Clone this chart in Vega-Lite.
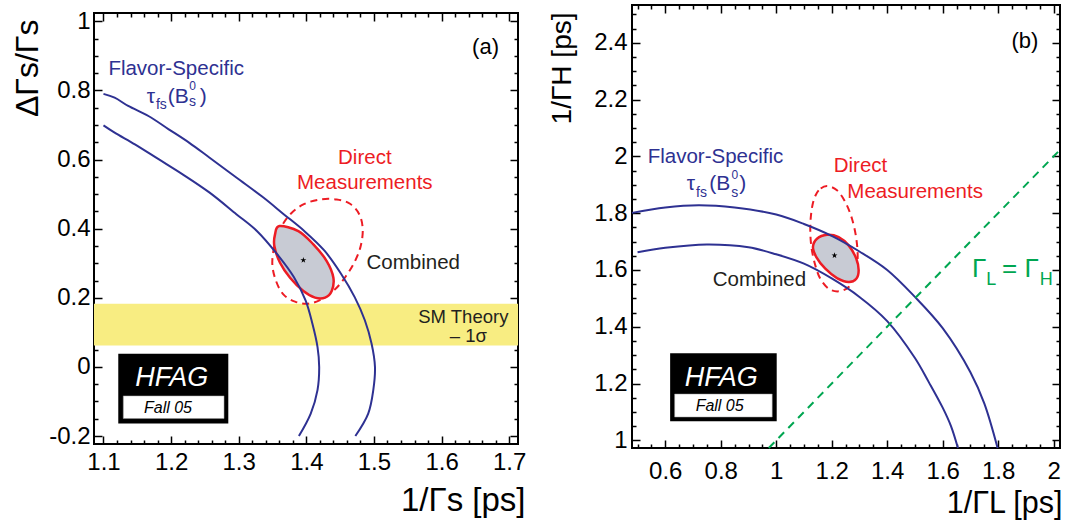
{
"$schema":"https://vega.github.io/schema/vega-lite/v6.json",
"background":"white",
"padding":{"left":10,"top":3,"right":0,"bottom":0},
"spacing":20,
"config":{
 "font":"Liberation Sans",
 "view":{"stroke":"black","strokeWidth":2},
 "axis":{"domain":false,"grid":false,"labelFontSize":24,"labelColor":"black","tickColor":"black","tickWidth":1.5,"titleFontWeight":"normal","titleColor":"black","labelFlush":false,"labelOverlap":false,"labelBound":false}
},
"hconcat":[
{"spacing":2,
 "vconcat":[
 {"width":10,"height":1,"view":{"stroke":null},"data":{"values":[]},"mark":"point"},
 {
 "width":424,"height":431,
 "resolve":{"axis":{"x":"independent","y":"independent"}},
 "layer":[
  {"data":{"values":[{"lo":0.062,"hi":0.183}]},
   "mark":{"type":"rect","color":"#F8ED82"},
   "encoding":{
    "x":{"datum":1.086,"type":"quantitative","scale":{"domain":[1.086,1.713],"nice":false,"zero":false},"axis":null},
    "x2":{"datum":1.713},
    "y":{"field":"lo","type":"quantitative","scale":{"domain":[-0.223,1.024],"nice":false,"zero":false},
      "axis":{"orient":"left","values":[-0.2,0,0.2,0.4,0.6,0.8,1],"labelExpr":"datum.value < 0 ? '-0.2' : datum.value == 0 ? '0' : datum.value == 1 ? '1' : format(datum.value, '.1f')","ticks":false,"labelPadding":4,"title":"ΔΓs/Γs","titleFontSize":32,"titleAngle":270,"titleAlign":"right","titleBaseline":"alphabetic","titleX":-57,"titleY":6}},
    "y2":{"field":"hi"}
   }},
  {"data":{"values":[{"x1":1.1219,"x2":1.2846,"y1":-0.1639,"y2":0.0384}]},
   "mark":{"type":"rect","color":"black"},
   "encoding":{
    "x":{"field":"x1","type":"quantitative","scale":{"domain":[1.086,1.713],"nice":false,"zero":false},
      "axis":{"orient":"bottom","values":[1.1,1.2,1.3,1.4,1.5,1.6,1.7],"format":".1f","ticks":false,"labelPadding":6,"title":"1/Γs  [ps]","titleFontSize":33,"titleAnchor":"end","titleAlign":"right","titleBaseline":"alphabetic","titleX":431,"titleY":66}},
    "x2":{"field":"x2"},
    "y":{"field":"y1","type":"quantitative","scale":{"domain":[-0.223,1.024],"nice":false,"zero":false},
      "axis":{"orient":"right","values":[-0.2,0,0.2,0.4,0.6,0.8,1],"labels":false,"ticks":true,"tickSize":8,"offset":-8,"title":null}},
    "y2":{"field":"y2"}
   }},
  {"data":{"values":[{"x1":1.1293,"x2":1.2783,"y1":-0.1494,"y2":-0.0838}]},
   "mark":{"type":"rect","fill":"white","stroke":"#999999","strokeWidth":0.5},
   "encoding":{
    "x":{"field":"x1","type":"quantitative","scale":{"domain":[1.086,1.713],"nice":false,"zero":false},
      "axis":{"orient":"top","values":[1.1,1.2,1.3,1.4,1.5,1.6,1.7],"labels":false,"ticks":true,"tickSize":8,"offset":-8,"title":null}},
    "x2":{"field":"x2"},
    "y":{"field":"y1","type":"quantitative","scale":{"domain":[-0.223,1.024],"nice":false,"zero":false},
      "axis":{"orient":"left","values":[-0.2,0,0.2,0.4,0.6,0.8,1],"labels":false,"ticks":true,"tickSize":8,"offset":-8,"title":null}},
    "y2":{"field":"y2"}
   }},
  {"data":{"values":[
    {"i":0,"x":1.3497,"y":0.2967},{"i":1,"x":1.3527,"y":0.3497},{"i":2,"x":1.3611,"y":0.3979},{"i":3,"x":1.3759,"y":0.4412},
    {"i":4,"x":1.3956,"y":0.4701},{"i":5,"x":1.4203,"y":0.4846},{"i":6,"x":1.4449,"y":0.4846},{"i":7,"x":1.4646,"y":0.4721},
    {"i":8,"x":1.4784,"y":0.4412},{"i":9,"x":1.4834,"y":0.3979},{"i":10,"x":1.4804,"y":0.3497},{"i":11,"x":1.472,"y":0.3064},
    {"i":12,"x":1.4587,"y":0.263},{"i":13,"x":1.4425,"y":0.2245},{"i":14,"x":1.4227,"y":0.1956},{"i":15,"x":1.403,"y":0.183},
    {"i":16,"x":1.3833,"y":0.1888},{"i":17,"x":1.366,"y":0.21},{"i":18,"x":1.3552,"y":0.2486}]},
   "mark":{"type":"line","interpolate":"cardinal-closed","color":"#ED1C24","strokeWidth":2,"strokeDash":[7,5]},
   "encoding":{
    "x":{"field":"x","type":"quantitative","scale":{"domain":[1.086,1.713],"nice":false,"zero":false},
      "axis":{"orient":"bottom","values":[1.1,1.2,1.3,1.4,1.5,1.6,1.7],"labels":false,"ticks":true,"tickSize":8,"offset":-8,"title":null}},
    "y":{"field":"y","type":"quantitative","scale":{"domain":[-0.223,1.024],"nice":false,"zero":false},
      "axis":{"orient":"left","values":[-0.15,-0.1,-0.05,0.05,0.1,0.15,0.25,0.3,0.35,0.45,0.5,0.55,0.65,0.7,0.75,0.85,0.9,0.95],"labels":false,"ticks":true,"tickSize":4,"offset":-4,"title":null}},
    "order":{"field":"i"}
   }},
  {"data":{"values":[
    {"i":0,"x":1.3601,"y":0.4075},{"i":1,"x":1.3882,"y":0.3931},{"i":2,"x":1.4104,"y":0.3545},{"i":3,"x":1.4301,"y":0.3064},
    {"i":4,"x":1.44,"y":0.2582},{"i":5,"x":1.4375,"y":0.2197},{"i":6,"x":1.4277,"y":0.2004},{"i":7,"x":1.4129,"y":0.2004},
    {"i":8,"x":1.3956,"y":0.2197},{"i":9,"x":1.3759,"y":0.2582},{"i":10,"x":1.3611,"y":0.3015},{"i":11,"x":1.3527,"y":0.3497},
    {"i":12,"x":1.3537,"y":0.3834}]},
   "mark":{"type":"line","interpolate":"cardinal-closed","fill":"#C8CBD4","stroke":"#ED1C24","strokeWidth":2.5},
   "encoding":{
    "x":{"field":"x","type":"quantitative","scale":{"domain":[1.086,1.713],"nice":false,"zero":false},
      "axis":{"orient":"bottom","values":[1.12,1.14,1.16,1.18,1.22,1.24,1.26,1.28,1.32,1.34,1.36,1.38,1.42,1.44,1.46,1.48,1.52,1.54,1.56,1.58,1.62,1.64,1.66,1.68],"labels":false,"ticks":true,"tickSize":4,"offset":-4,"title":null}},
    "y":{"field":"y","type":"quantitative","scale":{"domain":[-0.223,1.024],"nice":false,"zero":false},
      "axis":{"orient":"right","values":[-0.15,-0.1,-0.05,0.05,0.1,0.15,0.25,0.3,0.35,0.45,0.5,0.55,0.65,0.7,0.75,0.85,0.9,0.95],"labels":false,"ticks":true,"tickSize":4,"offset":-4,"title":null}},
    "order":{"field":"i"}
   }},
  {"data":{"values":[
    {"c":"o","i":0,"x":1.1,"y":0.79},{"c":"o","i":1,"x":1.1165,"y":0.779},{"c":"o","i":2,"x":1.1365,"y":0.755},{"c":"o","i":3,"x":1.1665,"y":0.726},
    {"c":"o","i":4,"x":1.1965,"y":0.6875},{"c":"o","i":5,"x":1.2265,"y":0.649},{"c":"o","i":6,"x":1.2565,"y":0.606},{"c":"o","i":7,"x":1.2965,"y":0.548},
    {"c":"o","i":8,"x":1.3365,"y":0.49},{"c":"o","i":9,"x":1.3665,"y":0.442},{"c":"o","i":10,"x":1.3965,"y":0.394},{"c":"o","i":11,"x":1.4265,"y":0.337},
    {"c":"o","i":12,"x":1.4515,"y":0.269},{"c":"o","i":13,"x":1.4715,"y":0.202},{"c":"o","i":14,"x":1.4865,"y":0.135},{"c":"o","i":15,"x":1.4965,"y":0.067},
    {"c":"o","i":16,"x":1.5015,"y":0.0},{"c":"o","i":17,"x":1.499,"y":-0.067},{"c":"o","i":18,"x":1.4915,"y":-0.135},{"c":"o","i":19,"x":1.4725,"y":-0.2},
    {"c":"n","i":0,"x":1.1,"y":0.699},{"c":"n","i":1,"x":1.1165,"y":0.678},{"c":"n","i":2,"x":1.1465,"y":0.644},{"c":"n","i":3,"x":1.1815,"y":0.601},
    {"c":"n","i":4,"x":1.2165,"y":0.558},{"c":"n","i":5,"x":1.2565,"y":0.505},{"c":"n","i":6,"x":1.2965,"y":0.442},{"c":"n","i":7,"x":1.3265,"y":0.394},
    {"c":"n","i":8,"x":1.3565,"y":0.327},{"c":"n","i":9,"x":1.3815,"y":0.26},{"c":"n","i":10,"x":1.399,"y":0.192},{"c":"n","i":11,"x":1.409,"y":0.125},
    {"c":"n","i":12,"x":1.4165,"y":0.058},{"c":"n","i":13,"x":1.419,"y":0.0},{"c":"n","i":14,"x":1.4165,"y":-0.067},{"c":"n","i":15,"x":1.4065,"y":-0.135},
    {"c":"n","i":16,"x":1.389,"y":-0.2}]},
   "mark":{"type":"line","interpolate":"catmull-rom","color":"#2E3192","strokeWidth":2},
   "encoding":{
    "x":{"field":"x","type":"quantitative","scale":{"domain":[1.086,1.713],"nice":false,"zero":false},
      "axis":{"orient":"top","values":[1.12,1.14,1.16,1.18,1.22,1.24,1.26,1.28,1.32,1.34,1.36,1.38,1.42,1.44,1.46,1.48,1.52,1.54,1.56,1.58,1.62,1.64,1.66,1.68],"labels":false,"ticks":true,"tickSize":4,"offset":-4,"title":null}},
    "y":{"field":"y","type":"quantitative","scale":{"domain":[-0.223,1.024],"nice":false,"zero":false},"axis":null},
    "detail":{"field":"c"},
    "order":{"field":"i"}
   }},
  {"data":{"values":[{"x":1.3956,"y":0.309}]},
   "mark":{"type":"point","shape":"M0,-1L0.225,-0.31L0.951,-0.309L0.363,0.118L0.588,0.809L0,0.382L-0.588,0.809L-0.363,0.118L-0.951,-0.309L-0.225,-0.31Z","filled":true,"color":"black","size":40,"opacity":1},
   "encoding":{"x":{"field":"x","type":"quantitative","axis":null},"y":{"field":"y","type":"quantitative","axis":null}}},
  {"data":{"values":[{"x":1.2075,"y":0.844,"t":"Flavor-Specific"}]},
   "mark":{"type":"text","align":"center","baseline":"alphabetic","fontSize":20.5,"color":"#2E3192"},
   "encoding":{"x":{"field":"x","type":"quantitative","axis":null},"y":{"field":"y","type":"quantitative","axis":null},"text":{"field":"t"}}},
  {"data":{"values":[{"x":1.164,"y":0.7644,"t":"τ"},{"x":1.195,"y":0.7644,"t":"(B"},{"x":1.2425,"y":0.7644,"t":")"}]},
   "mark":{"type":"text","align":"left","baseline":"alphabetic","fontSize":21,"color":"#2E3192"},
   "encoding":{"x":{"field":"x","type":"quantitative","axis":null},"y":{"field":"y","type":"quantitative","axis":null},"text":{"field":"t"}}},
  {"data":{"values":[{"x":1.1775,"y":0.745,"t":"fs"},{"x":1.2265,"y":0.754,"t":"s"}]},
   "mark":{"type":"text","align":"left","baseline":"alphabetic","fontSize":14,"color":"#2E3192"},
   "encoding":{"x":{"field":"x","type":"quantitative","axis":null},"y":{"field":"y","type":"quantitative","axis":null},"text":{"field":"t"}}},
  {"data":{"values":[{"x":1.227,"y":0.8,"t":"0"}]},
   "mark":{"type":"text","align":"left","baseline":"alphabetic","fontSize":12,"color":"#2E3192"},
   "encoding":{"x":{"field":"x","type":"quantitative","axis":null},"y":{"field":"y","type":"quantitative","axis":null},"text":{"field":"t"}}},
  {"data":{"values":[{"x":1.4865,"y":0.5885,"t":"Direct"},{"x":1.4865,"y":0.5144,"t":"Measurements"}]},
   "mark":{"type":"text","align":"center","baseline":"alphabetic","fontSize":20.5,"color":"#ED1C24"},
   "encoding":{"x":{"field":"x","type":"quantitative","axis":null},"y":{"field":"y","type":"quantitative","axis":null},"text":{"field":"t"}}},
  {"data":{"values":[{"x":1.489,"y":0.2837,"t":"Combined"}]},
   "mark":{"type":"text","align":"left","baseline":"alphabetic","fontSize":20.5,"color":"#231F20"},
   "encoding":{"x":{"field":"x","type":"quantitative","axis":null},"y":{"field":"y","type":"quantitative","axis":null},"text":{"field":"t"}}},
  {"data":{"values":[{"x":1.6988,"y":0.128,"t":"SM Theory"},{"x":1.667,"y":0.0731,"t":"– 1σ"}]},
   "mark":{"type":"text","align":"right","baseline":"alphabetic","fontSize":18.5,"color":"#231F20"},
   "encoding":{"x":{"field":"x","type":"quantitative","axis":null},"y":{"field":"y","type":"quantitative","axis":null},"text":{"field":"t"}}},
  {"data":{"values":[{"x":1.665,"y":0.906,"t":"(a)"}]},
   "mark":{"type":"text","align":"center","baseline":"alphabetic","fontSize":22,"color":"black"},
   "encoding":{"x":{"field":"x","type":"quantitative","axis":null},"y":{"field":"y","type":"quantitative","axis":null},"text":{"field":"t"}}},
  {"data":{"values":[{"x":1.2009,"y":-0.0549,"t":"HFAG"}]},
   "mark":{"type":"text","align":"center","baseline":"alphabetic","fontSize":27,"fontStyle":"italic","color":"white"},
   "encoding":{"x":{"field":"x","type":"quantitative","axis":null},"y":{"field":"y","type":"quantitative","axis":null},"text":{"field":"t"}}},
  {"data":{"values":[{"x":1.1954,"y":-0.1321,"t":"Fall 05"}]},
   "mark":{"type":"text","align":"center","baseline":"alphabetic","fontSize":16,"fontStyle":"italic","color":"black"},
   "encoding":{"x":{"field":"x","type":"quantitative","axis":null},"y":{"field":"y","type":"quantitative","axis":null},"text":{"field":"t"}}}
 ]
 }
 ]
},
{
 "width":428,"height":443,
 "resolve":{"axis":{"x":"independent","y":"independent"}},
 "layer":[
  {"data":{"values":[{"x1":0.6175,"x2":1.0017,"y1":1.067,"y2":1.307}]},
   "mark":{"type":"rect","color":"black"},
   "encoding":{
    "x":{"field":"x1","type":"quantitative","scale":{"domain":[0.48,2.023],"nice":false,"zero":false},
      "axis":{"orient":"bottom","values":[0.6,0.8,1,1.2,1.4,1.6,1.8,2],"format":"~g","ticks":false,"labelPadding":11,"title":"1/ΓL [ps]","titleFontSize":30.5,"titleAnchor":"end","titleAlign":"right","titleBaseline":"alphabetic","titleX":430,"titleY":64}},
    "x2":{"field":"x2"},
    "y":{"field":"y1","type":"quantitative","scale":{"domain":[0.973,2.533],"nice":false,"zero":false},
      "axis":{"orient":"left","values":[1,1.2,1.4,1.6,1.8,2,2.2,2.4],"format":"~g","ticks":false,"labelPadding":5,"title":"1/ΓH [ps]","titleFontSize":28,"titleAngle":270,"titleAlign":"right","titleBaseline":"alphabetic","titleX":-62,"titleY":7}},
    "y2":{"field":"y2"}
   }},
  {"data":{"values":[{"x1":0.6337,"x2":0.9855,"y1":1.082,"y2":1.163}]},
   "mark":{"type":"rect","fill":"white","stroke":"#999999","strokeWidth":0.5},
   "encoding":{
    "x":{"field":"x1","type":"quantitative","scale":{"domain":[0.48,2.023],"nice":false,"zero":false},
      "axis":{"orient":"top","values":[0.6,0.8,1,1.2,1.4,1.6,1.8,2],"labels":false,"ticks":true,"tickSize":8,"offset":-8,"title":null}},
    "x2":{"field":"x2"},
    "y":{"field":"y1","type":"quantitative","scale":{"domain":[0.973,2.533],"nice":false,"zero":false},
      "axis":{"orient":"right","values":[1,1.2,1.4,1.6,1.8,2,2.2,2.4],"labels":false,"ticks":true,"tickSize":8,"offset":-8,"title":null}},
    "y2":{"field":"y2"}
   }},
  {"data":{"values":[
    {"i":0,"x":1.1829,"y":1.8954},{"i":1,"x":1.1529,"y":1.8803},{"i":2,"x":1.1349,"y":1.8451},{"i":3,"x":1.1252,"y":1.7922},
    {"i":4,"x":1.1228,"y":1.7335},{"i":5,"x":1.1277,"y":1.6748},{"i":6,"x":1.1409,"y":1.6161},{"i":7,"x":1.1589,"y":1.5691},
    {"i":8,"x":1.1889,"y":1.5339},{"i":9,"x":1.225,"y":1.5246},{"i":10,"x":1.261,"y":1.5398},{"i":11,"x":1.285,"y":1.5809},
    {"i":12,"x":1.2935,"y":1.6395},{"i":13,"x":1.2887,"y":1.71},{"i":14,"x":1.2731,"y":1.7804},{"i":15,"x":1.249,"y":1.8391},
    {"i":16,"x":1.219,"y":1.8803}]},
   "mark":{"type":"line","interpolate":"cardinal-closed","color":"#ED1C24","strokeWidth":2,"strokeDash":[7,5]},
   "encoding":{
    "x":{"field":"x","type":"quantitative","scale":{"domain":[0.48,2.023],"nice":false,"zero":false},
      "axis":{"orient":"bottom","values":[0.6,0.8,1,1.2,1.4,1.6,1.8,2],"labels":false,"ticks":true,"tickSize":8,"offset":-8,"title":null}},
    "y":{"field":"y","type":"quantitative","scale":{"domain":[0.973,2.533],"nice":false,"zero":false},
      "axis":{"orient":"left","values":[1,1.2,1.4,1.6,1.8,2,2.2,2.4],"labels":false,"ticks":true,"tickSize":8,"offset":-8,"title":null}},
    "order":{"field":"i"}
   }},
  {"data":{"values":[
    {"i":0,"x":1.1469,"y":1.71},{"i":1,"x":1.1829,"y":1.724},{"i":2,"x":1.225,"y":1.716},{"i":3,"x":1.261,"y":1.6866},
    {"i":4,"x":1.2887,"y":1.6395},{"i":5,"x":1.2971,"y":1.5986},{"i":6,"x":1.2887,"y":1.5691},{"i":7,"x":1.261,"y":1.5574},
    {"i":8,"x":1.219,"y":1.5715},{"i":9,"x":1.1769,"y":1.6043},{"i":10,"x":1.1445,"y":1.6454},{"i":11,"x":1.1324,"y":1.6806}]},
   "mark":{"type":"line","interpolate":"cardinal-closed","fill":"#C8CBD4","stroke":"#ED1C24","strokeWidth":2.5},
   "encoding":{
    "x":{"field":"x","type":"quantitative","scale":{"domain":[0.48,2.023],"nice":false,"zero":false},
      "axis":{"orient":"bottom","values":[0.5,0.55,0.65,0.7,0.75,0.85,0.9,0.95,1.05,1.1,1.15,1.25,1.3,1.35,1.45,1.5,1.55,1.65,1.7,1.75,1.85,1.9,1.95],"labels":false,"ticks":true,"tickSize":4,"offset":-4,"title":null}},
    "y":{"field":"y","type":"quantitative","scale":{"domain":[0.973,2.533],"nice":false,"zero":false},
      "axis":{"orient":"left","values":[1.05,1.1,1.15,1.25,1.3,1.35,1.45,1.5,1.55,1.65,1.7,1.75,1.85,1.9,1.95,2.05,2.1,2.15,2.25,2.3,2.35,2.45,2.5],"labels":false,"ticks":true,"tickSize":4,"offset":-4,"title":null}},
    "order":{"field":"i"}
   }},
  {"data":{"values":[
    {"c":"o","i":0,"x":0.48,"y":1.801},{"c":"o","i":1,"x":0.6,"y":1.82},{"c":"o","i":2,"x":0.72,"y":1.828},{"c":"o","i":3,"x":0.85,"y":1.82},
    {"c":"o","i":4,"x":1.0,"y":1.795},{"c":"o","i":5,"x":1.1,"y":1.762},{"c":"o","i":6,"x":1.2,"y":1.72},{"c":"o","i":7,"x":1.3,"y":1.665},
    {"c":"o","i":8,"x":1.4,"y":1.6},{"c":"o","i":9,"x":1.5,"y":1.505},{"c":"o","i":10,"x":1.6,"y":1.395},{"c":"o","i":11,"x":1.7,"y":1.24},
    {"c":"o","i":12,"x":1.75,"y":1.13},{"c":"o","i":13,"x":1.798,"y":0.973},
    {"c":"n","i":0,"x":0.5,"y":1.662},{"c":"n","i":1,"x":0.6,"y":1.678},{"c":"n","i":2,"x":0.75,"y":1.69},{"c":"n","i":3,"x":0.9,"y":1.68},
    {"c":"n","i":4,"x":1.0,"y":1.655},{"c":"n","i":5,"x":1.1,"y":1.622},{"c":"n","i":6,"x":1.2,"y":1.57},{"c":"n","i":7,"x":1.3,"y":1.505},
    {"c":"n","i":8,"x":1.4,"y":1.42},{"c":"n","i":9,"x":1.5,"y":1.29},{"c":"n","i":10,"x":1.55,"y":1.205},{"c":"n","i":11,"x":1.6,"y":1.115},
    {"c":"n","i":12,"x":1.63,"y":1.05},{"c":"n","i":13,"x":1.655,"y":0.973}]},
   "mark":{"type":"line","interpolate":"catmull-rom","color":"#2E3192","strokeWidth":2},
   "encoding":{
    "x":{"field":"x","type":"quantitative","scale":{"domain":[0.48,2.023],"nice":false,"zero":false},
      "axis":{"orient":"top","values":[0.5,0.55,0.65,0.7,0.75,0.85,0.9,0.95,1.05,1.1,1.15,1.25,1.3,1.35,1.45,1.5,1.55,1.65,1.7,1.75,1.85,1.9,1.95],"labels":false,"ticks":true,"tickSize":4,"offset":-4,"title":null}},
    "y":{"field":"y","type":"quantitative","scale":{"domain":[0.973,2.533],"nice":false,"zero":false},
      "axis":{"orient":"right","values":[1.05,1.1,1.15,1.25,1.3,1.35,1.45,1.5,1.55,1.65,1.7,1.75,1.85,1.9,1.95,2.05,2.1,2.15,2.25,2.3,2.35,2.45,2.5],"labels":false,"ticks":true,"tickSize":4,"offset":-4,"title":null}},
    "detail":{"field":"c"},
    "order":{"field":"i"}
   }},
  {"data":{"values":[{"i":0,"x":0.973,"y":0.973},{"i":1,"x":2.023,"y":2.023}]},
   "mark":{"type":"line","color":"#00A651","strokeWidth":2,"strokeDash":[8,6]},
   "encoding":{"x":{"field":"x","type":"quantitative","axis":null},"y":{"field":"y","type":"quantitative","axis":null},"order":{"field":"i"}}},
  {"data":{"values":[{"x":1.21,"y":1.651}]},
   "mark":{"type":"point","shape":"M0,-1L0.225,-0.31L0.951,-0.309L0.363,0.118L0.588,0.809L0,0.382L-0.588,0.809L-0.363,0.118L-0.951,-0.309L-0.225,-0.31Z","filled":true,"color":"black","size":40,"opacity":1},
   "encoding":{"x":{"field":"x","type":"quantitative","axis":null},"y":{"field":"y","type":"quantitative","axis":null}}},
  {"data":{"values":[{"x":0.781,"y":1.978,"t":"Flavor-Specific"}]},
   "mark":{"type":"text","align":"center","baseline":"alphabetic","fontSize":20.5,"color":"#2E3192"},
   "encoding":{"x":{"field":"x","type":"quantitative","axis":null},"y":{"field":"y","type":"quantitative","axis":null},"text":{"field":"t"}}},
  {"data":{"values":[{"x":0.6774,"y":1.8816,"t":"τ"},{"x":0.7585,"y":1.8816,"t":"(B"},{"x":0.8665,"y":1.8816,"t":")"}]},
   "mark":{"type":"text","align":"left","baseline":"alphabetic","fontSize":21,"color":"#2E3192"},
   "encoding":{"x":{"field":"x","type":"quantitative","axis":null},"y":{"field":"y","type":"quantitative","axis":null},"text":{"field":"t"}}},
  {"data":{"values":[{"x":0.711,"y":1.858,"t":"fs"},{"x":0.8375,"y":1.858,"t":"s"}]},
   "mark":{"type":"text","align":"left","baseline":"alphabetic","fontSize":14,"color":"#2E3192"},
   "encoding":{"x":{"field":"x","type":"quantitative","axis":null},"y":{"field":"y","type":"quantitative","axis":null},"text":{"field":"t"}}},
  {"data":{"values":[{"x":0.839,"y":1.92,"t":"0"}]},
   "mark":{"type":"text","align":"left","baseline":"alphabetic","fontSize":12,"color":"#2E3192"},
   "encoding":{"x":{"field":"x","type":"quantitative","axis":null},"y":{"field":"y","type":"quantitative","axis":null},"text":{"field":"t"}}},
  {"data":{"values":[{"x":1.3037,"y":1.9437,"t":"Direct"},{"x":1.5008,"y":1.8546,"t":"Measurements"}]},
   "mark":{"type":"text","align":"center","baseline":"alphabetic","fontSize":20.5,"color":"#ED1C24"},
   "encoding":{"x":{"field":"x","type":"quantitative","axis":null},"y":{"field":"y","type":"quantitative","axis":null},"text":{"field":"t"}}},
  {"data":{"values":[{"x":0.7709,"y":1.5451,"t":"Combined"}]},
   "mark":{"type":"text","align":"left","baseline":"alphabetic","fontSize":20.5,"color":"#231F20"},
   "encoding":{"x":{"field":"x","type":"quantitative","axis":null},"y":{"field":"y","type":"quantitative","axis":null},"text":{"field":"t"}}},
  {"data":{"values":[{"x":1.7056,"y":1.575,"t":"Γ"},{"x":1.8138,"y":1.575,"t":"= Γ"}]},
   "mark":{"type":"text","align":"left","baseline":"alphabetic","fontSize":26,"color":"#00A651"},
   "encoding":{"x":{"field":"x","type":"quantitative","axis":null},"y":{"field":"y","type":"quantitative","axis":null},"text":{"field":"t"}}},
  {"data":{"values":[{"x":1.7572,"y":1.548,"t":"L"},{"x":1.95,"y":1.548,"t":"H"}]},
   "mark":{"type":"text","align":"left","baseline":"alphabetic","fontSize":18,"color":"#00A651"},
   "encoding":{"x":{"field":"x","type":"quantitative","axis":null},"y":{"field":"y","type":"quantitative","axis":null},"text":{"field":"t"}}},
  {"data":{"values":[{"x":1.8967,"y":2.381,"t":"(b)"}]},
   "mark":{"type":"text","align":"center","baseline":"alphabetic","fontSize":22,"color":"black"},
   "encoding":{"x":{"field":"x","type":"quantitative","axis":null},"y":{"field":"y","type":"quantitative","axis":null},"text":{"field":"t"}}},
  {"data":{"values":[{"x":0.802,"y":1.19,"t":"HFAG"}]},
   "mark":{"type":"text","align":"center","baseline":"alphabetic","fontSize":27,"fontStyle":"italic","color":"white"},
   "encoding":{"x":{"field":"x","type":"quantitative","axis":null},"y":{"field":"y","type":"quantitative","axis":null},"text":{"field":"t"}}},
  {"data":{"values":[{"x":0.796,"y":1.102,"t":"Fall 05"}]},
   "mark":{"type":"text","align":"center","baseline":"alphabetic","fontSize":16,"fontStyle":"italic","color":"black"},
   "encoding":{"x":{"field":"x","type":"quantitative","axis":null},"y":{"field":"y","type":"quantitative","axis":null},"text":{"field":"t"}}}
 ]
}
]
}
